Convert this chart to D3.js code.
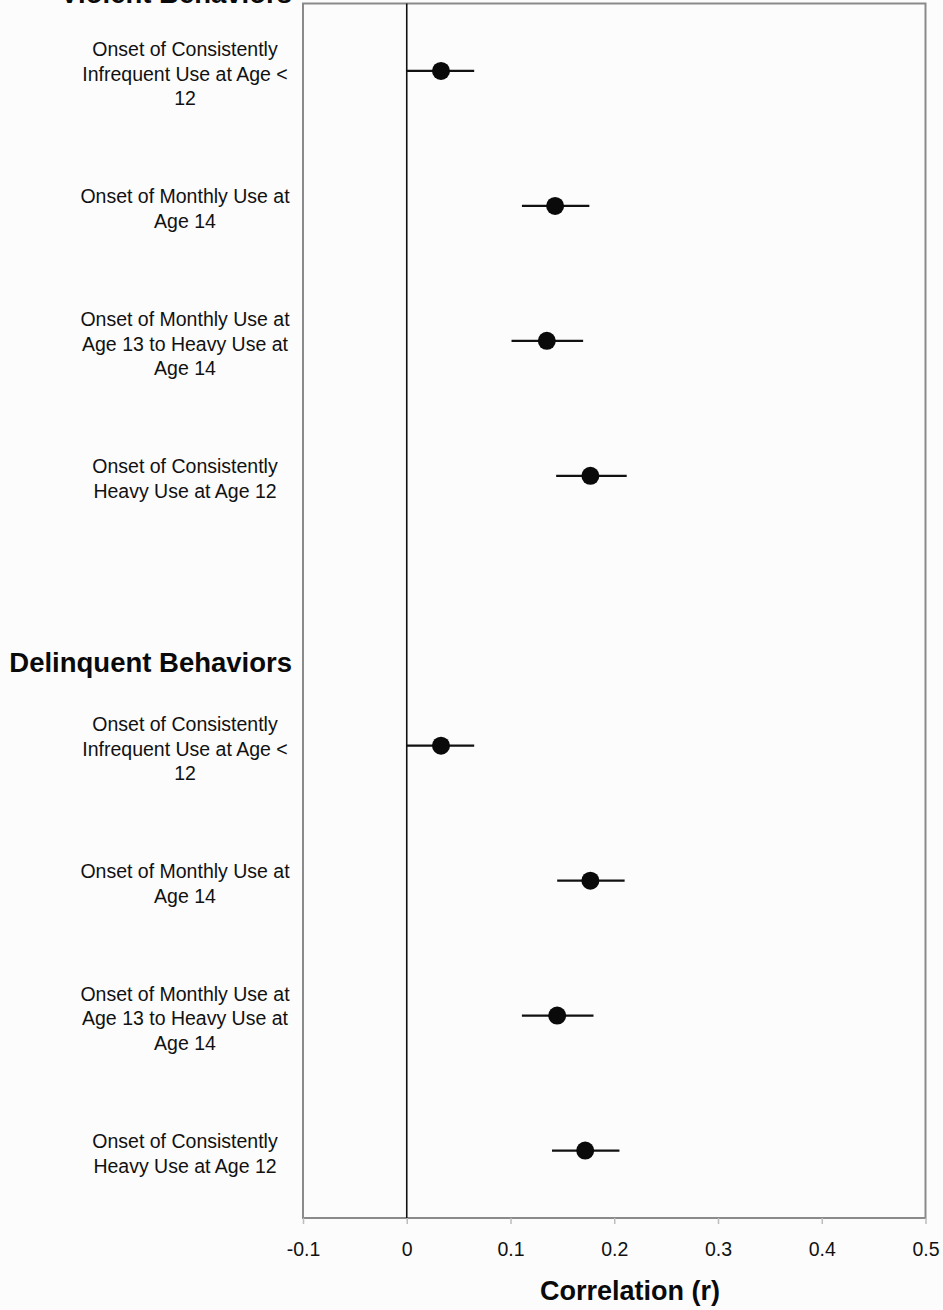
<!DOCTYPE html>
<html>
<head>
<meta charset="utf-8">
<script src="https://cdn.jsdelivr.net/npm/d3@7"></script>
<style>
  body { margin: 0; background: #fcfcfc; }
  svg { display: block; font-family: "Liberation Sans", Arial, sans-serif; }
</style>
</head>
<body>
<svg id="grafico" width="943" height="1310"></svg>
<script>
// one slot per row; the empty slot is the gap before the second group
const categorias = ["v1", "v2", "v3", "v4", "gap", "d1", "d2", "d3", "d4"];
const etiquetas = [
  ["Onset of Consistently", "Infrequent Use at Age <", "12"],
  ["Onset of Monthly Use at", "Age 14"],
  ["Onset of Monthly Use at", "Age 13 to Heavy Use at", "Age 14"],
  ["Onset of Consistently", "Heavy Use at Age 12"],
  [],
  ["Onset of Consistently", "Infrequent Use at Age <", "12"],
  ["Onset of Monthly Use at", "Age 14"],
  ["Onset of Monthly Use at", "Age 13 to Heavy Use at", "Age 14"],
  ["Onset of Consistently", "Heavy Use at Age 12"]
];
const grupos = ["Violent Behaviors", "Delinquent Behaviors"];
const gruposInicio = ["v1", "d1"];

const valores = [0.033, 0.143, 0.135, 0.177, null, 0.033, 0.177, 0.145, 0.172];
const inferior = [0.000, 0.111, 0.101, 0.144, null, 0.000, 0.145, 0.111, 0.140];
const superior = [0.065, 0.176, 0.170, 0.212, null, 0.065, 0.210, 0.180, 0.205];

const ticks = [-0.1, 0, 0.1, 0.2, 0.3, 0.4, 0.5];
const tickLabels = ["-0.1", "0", "0.1", "0.2", "0.3", "0.4", "0.5"];

const datos = categorias.map((c, i) => ({
  cat: c, lineas: etiquetas[i], r: valores[i], lo: inferior[i], hi: superior[i]
}));

const svg = d3.select("#grafico");
const m = { left: 303, right: 925.5, top: 3.5, bottom: 1218 };

const x = d3.scaleLinear().domain([-0.1, 0.5]).range([m.left, m.right]);
const y = d3.scaleBand().domain(categorias).range([m.top, m.bottom]);

// marco del área de trazado
svg.append("rect")
  .attr("x", m.left).attr("y", m.top)
  .attr("width", m.right - m.left).attr("height", m.bottom - m.top)
  .attr("fill", "#fcfcfc").attr("stroke", "#8a8a8a").attr("stroke-width", 2);

// eje x
const ejeX = svg.append("g")
  .attr("transform", `translate(0,${m.bottom})`)
  .call(d3.axisBottom(x).tickValues(ticks)
    .tickFormat((d, i) => tickLabels[i]).tickSize(6).tickPadding(18));
ejeX.select(".domain").remove();
ejeX.selectAll("line").attr("stroke", "#bdbdbd").attr("stroke-width", 1.5);
ejeX.selectAll("text").attr("font-size", 19.5).attr("fill", "#111")
  .attr("font-family", "Liberation Sans, Arial, sans-serif");

// línea de cero
svg.append("line")
  .attr("x1", x(0)).attr("x2", x(0))
  .attr("y1", m.top).attr("y2", m.bottom)
  .attr("stroke", "#111").attr("stroke-width", 1.6);

const filas = datos.filter(d => d.r != null);

// intervalos
svg.selectAll(".ci")
  .data(filas)
  .join("line")
  .attr("class", "ci")
  .attr("x1", d => x(d.lo)).attr("x2", d => x(d.hi))
  .attr("y1", d => y(d.cat) + y.bandwidth() / 2)
  .attr("y2", d => y(d.cat) + y.bandwidth() / 2)
  .attr("stroke", "#111").attr("stroke-width", 2.2);

// puntos
svg.selectAll(".punto")
  .data(filas)
  .join("circle")
  .attr("class", "punto")
  .attr("cx", d => x(d.r))
  .attr("cy", d => y(d.cat) + y.bandwidth() / 2)
  .attr("r", 9)
  .attr("fill", "#0a0a0a");

// etiquetas de categoría
const lh = 24.5;
svg.selectAll(".etq")
  .data(datos)
  .join("text")
  .attr("class", "etq")
  .attr("text-anchor", "middle")
  .attr("font-size", 19.5)
  .attr("fill", "#111")
  .each(function (d) {
    const cy = y(d.cat) + y.bandwidth() / 2 + 3;
    const n = d.lineas.length;
    d3.select(this).selectAll("tspan")
      .data(d.lineas)
      .join("tspan")
      .attr("x", 185)
      .attr("y", (_, i) => cy + (i - (n - 1) / 2) * lh)
      .attr("dy", "0.35em")
      .text(t => t);
  });

// títulos de grupo
svg.selectAll(".grupo")
  .data(grupos)
  .join("text")
  .attr("class", "grupo")
  .attr("x", 292)
  .attr("y", (_, i) => y(gruposInicio[i]) - (i === 0 ? 0.5 : 6.5))
  .attr("text-anchor", "end")
  .attr("font-size", 27.5)
  .attr("font-weight", "bold")
  .attr("fill", "#0a0a0a")
  .text(d => d);

// título del eje
svg.append("text")
  .attr("x", 630)
  .attr("y", 1300)
  .attr("text-anchor", "middle")
  .attr("font-size", 27)
  .attr("font-weight", "bold")
  .attr("fill", "#0a0a0a")
  .text("Correlation (r)");
</script>
</body>
</html>
